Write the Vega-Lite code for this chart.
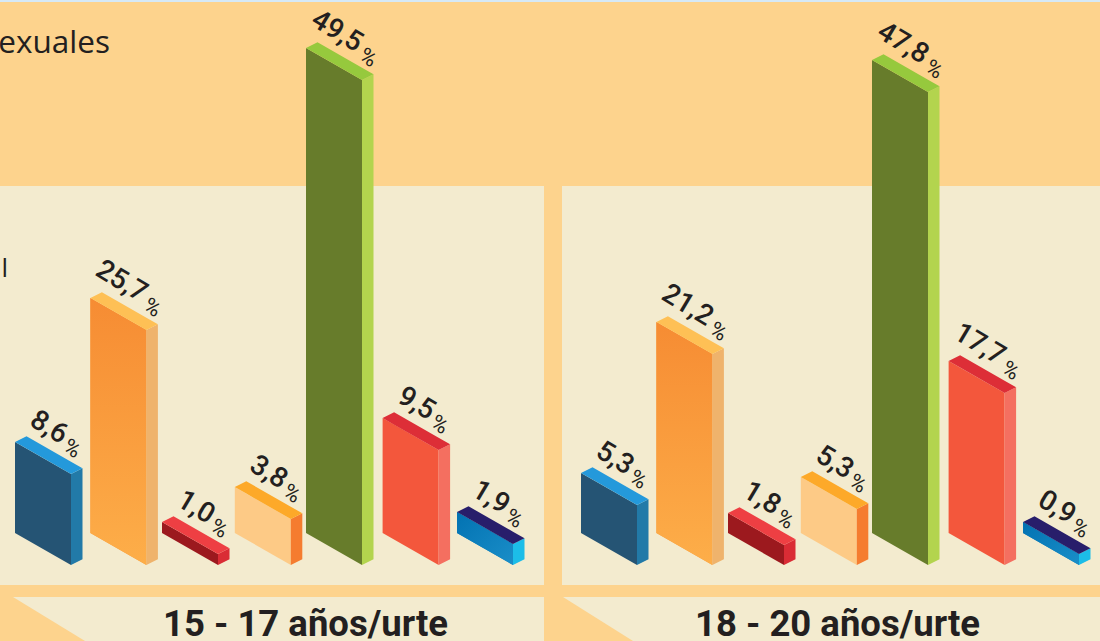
{
"$schema":"https://vega.github.io/schema/vega-lite/v6.json",
"width":1100,"height":641,"padding":0,"autosize":"none","background":"#FDD38D",
"config":{"axis":{"disable":true},"view":{"stroke":null},"legend":{"disable":true}},
"data":{"values":[
{"group":"15 - 17","serie":"azul","slot":0,"pct":8.6,"drawn":9.29},
{"group":"15 - 17","serie":"naranja","slot":1,"pct":25.7,"drawn":23.98},
{"group":"15 - 17","serie":"rojo","slot":2,"pct":1.0,"drawn":1.12},
{"group":"15 - 17","serie":"melocoton","slot":3,"pct":3.8,"drawn":4.69},
{"group":"15 - 17","serie":"verde","slot":4,"pct":49.5,"drawn":49.49},
{"group":"15 - 17","serie":"coral","slot":5,"pct":9.5,"drawn":11.73},
{"group":"15 - 17","serie":"marino","slot":6,"pct":1.9,"drawn":2.14},
{"group":"18 - 20","serie":"azul","slot":0,"pct":5.3,"drawn":6.12},
{"group":"18 - 20","serie":"naranja","slot":1,"pct":21.2,"drawn":21.53},
{"group":"18 - 20","serie":"rojo","slot":2,"pct":1.8,"drawn":2.04},
{"group":"18 - 20","serie":"melocoton","slot":3,"pct":5.3,"drawn":5.71},
{"group":"18 - 20","serie":"verde","slot":4,"pct":47.8,"drawn":48.27},
{"group":"18 - 20","serie":"coral","slot":5,"pct":17.7,"drawn":17.55},
{"group":"18 - 20","serie":"marino","slot":6,"pct":0.9,"drawn":1.12}
]},
"transform":[
{"calculate":"datum.group=='15 - 17'?0:1","as":"g"},
{"calculate":"[15,90.4,162,234.8,306,382.6,457][datum.slot]+566*datum.g","as":"x0"},
{"calculate":"datum.group+datum.serie","as":"id"},
{"calculate":"replace(format(datum.pct,'.1f'),'.',',')","as":"label"},
{"calculate":"datum.pct>=10?1:0","as":"wide"}
],
"encoding":{
"x":{"field":"px","type":"quantitative","scale":{"domain":[0,1100],"range":[0,1100]}},
"y":{"field":"yt","type":"quantitative","stack":null,"scale":{"domain":[-11.02,54.39],"range":[641,0]}}
},
"layer":[
{"data":{"values":[{"band":"top"}]},"mark":{"type":"rect","color":"#D6E9F6"},
 "transform":[{"calculate":"0","as":"px"},{"calculate":"1100","as":"px2"},{"calculate":"54.39","as":"yt"},{"calculate":"54.18","as":"yb"}],
 "encoding":{"x2":{"field":"px2"},"y2":{"field":"yb"}}},
{"data":{"name":"panels","values":[{"g":0,"title":"15 - 17 años/urte"},{"g":1,"title":"18 - 20 años/urte"}]},"mark":{"type":"rect","color":"#F3EBCF"},
 "transform":[{"calculate":"-4+566*datum.g","as":"px"},{"calculate":"datum.px+548","as":"px2"},{"calculate":"35.41","as":"yt"},{"calculate":"-5.306","as":"yb"}],
 "encoding":{"x2":{"field":"px2"},"y2":{"field":"yb"}}},
{"data":{"name":"panels"},"mark":{"type":"rect","color":"#F3EBCF"},
 "transform":[{"calculate":"13+550*datum.g","as":"px"},{"calculate":"544+556*datum.g","as":"px2"},{"calculate":"-6.531","as":"yt"},{"calculate":"-11.02","as":"yb"}],
 "encoding":{"x2":{"field":"px2"},"y2":{"field":"yb"}}},
{"data":{"name":"panels"},"mark":{"type":"area","color":"#FDD38D"},
 "transform":[{"calculate":"[0,1]","as":"t"},{"flatten":["t"]},{"calculate":"13+550*datum.g+datum.t*(72-2*datum.g)","as":"px"},{"calculate":"-6.531-4.489*datum.t","as":"yt"},{"calculate":"-11.02","as":"yb"}],
 "encoding":{"y2":{"field":"yb"},"detail":{"field":"g"}}},
{"data":{"name":"panels"},"mark":{"type":"text","font":"Roboto","fontWeight":700,"fontSize":36.5,"color":"#231F20","baseline":"alphabetic","align":"center"},
 "transform":[{"calculate":"305.5+532*datum.g","as":"px"},{"calculate":"-10.51","as":"yt"}],
 "encoding":{"text":{"field":"title"}}},
{"data":{"values":[{"note":"exuales"}]},"mark":{"type":"text","font":"Open Sans","fontSize":31.5,"color":"#231F20","baseline":"alphabetic","align":"right"},
 "transform":[{"calculate":"110","as":"px"},{"calculate":"48.98","as":"yt"}],
 "encoding":{"text":{"field":"note"}}},
{"data":{"values":[{"note":"al"}]},"mark":{"type":"text","font":"Open Sans","fontSize":26,"color":"#231F20","baseline":"alphabetic","align":"right"},
 "transform":[{"calculate":"8","as":"px"},{"calculate":"26.12","as":"yt"}],
 "encoding":{"text":{"field":"note"}}},
{"mark":{"type":"area"},
 "transform":[{"calculate":"[0,1]","as":"t"},{"flatten":["t"]},{"calculate":"datum.x0+datum.t*56","as":"px"},{"calculate":"datum.drawn-datum.t*56*0.05831","as":"yt"},{"calculate":"-datum.t*56*0.05831","as":"yb"},{"calculate":"datum.serie+'|front'","as":"key"}],
 "encoding":{"y2":{"field":"yb"},"detail":{"field":"id"},"color":{"field":"key","type":"nominal",
  "scale":{"domain":["azul|front","naranja|front","rojo|front","melocoton|front","verde|front","coral|front","marino|front","azul|side","naranja|side","rojo|side","melocoton|side","verde|side","coral|side","marino|side","azul|top","naranja|top","rojo|top","melocoton|top","verde|top","coral|top","marino|top"],
  "range":["#255474","#F89B3C","#9C191E","#FDCA86","#677C2B","#F3573C","#0A7DBA","#227AA8","#EFB36C","#DA2C35","#F57C2F","#B3D44E","#F46F60","#1CBDE8","#2499DB","#FEC055","#EE3F43","#FDA929","#96C93D","#DD2E37","#281E6B"]}}}},
{"mark":{"type":"area","fill":{"gradient":"linear","x1":0,"y1":0,"x2":0,"y2":1,"stops":[{"offset":0,"color":"#F68C33"},{"offset":1,"color":"#FDAE49"}]}},
 "transform":[{"filter":"datum.serie=='naranja'"},{"calculate":"[0,1]","as":"t"},{"flatten":["t"]},{"calculate":"datum.x0+datum.t*56","as":"px"},{"calculate":"datum.drawn-datum.t*56*0.05831","as":"yt"},{"calculate":"-datum.t*56*0.05831","as":"yb"}],
 "encoding":{"y2":{"field":"yb"},"detail":{"field":"id"}}},
{"mark":{"type":"area","fill":{"gradient":"linear","x1":0,"y1":0,"x2":1,"y2":1,"stops":[{"offset":0,"color":"#0272B2"},{"offset":1,"color":"#1A8EC8"}]}},
 "transform":[{"filter":"datum.serie=='marino'"},{"calculate":"[0,1]","as":"t"},{"flatten":["t"]},{"calculate":"datum.x0+datum.t*56","as":"px"},{"calculate":"datum.drawn-datum.t*56*0.05831","as":"yt"},{"calculate":"-datum.t*56*0.05831","as":"yb"}],
 "encoding":{"y2":{"field":"yb"},"detail":{"field":"id"}}},
{"mark":{"type":"area"},
 "transform":[{"calculate":"[0,1]","as":"t"},{"flatten":["t"]},{"calculate":"datum.x0+56+datum.t*11.5","as":"px"},{"calculate":"datum.drawn-56*0.05831+datum.t*11.5*0.05102","as":"yt"},{"calculate":"-56*0.05831+datum.t*11.5*0.05102","as":"yb"},{"calculate":"datum.serie+'|side'","as":"key"}],
 "encoding":{"y2":{"field":"yb"},"detail":{"field":"id"},"color":{"field":"key","type":"nominal"}}},
{"mark":{"type":"area"},
 "transform":[{"calculate":"[0,11.5,56,67.5]","as":"t"},{"flatten":["t"]},{"calculate":"datum.x0+datum.t","as":"px"},{"calculate":"datum.drawn+min(datum.t,11.5)*0.05102-max(datum.t-11.5,0)*0.05831","as":"yt"},{"calculate":"datum.drawn-min(datum.t,56)*0.05831+max(datum.t-56,0)*0.05102","as":"yb"},{"calculate":"datum.serie+'|top'","as":"key"}],
 "encoding":{"y2":{"field":"yb"},"detail":{"field":"id"},"color":{"field":"key","type":"nominal"}}},
{"mark":{"type":"text","font":"Roboto","fontWeight":500,"fontSize":28,"color":"#231F20","angle":31,"align":"right","baseline":"middle"},
 "transform":[{"calculate":"datum.x0+50+4*datum.wide","as":"px"},{"calculate":"datum.drawn+0.45-0.2*datum.wide","as":"yt"}],
 "encoding":{"text":{"field":"label"}}},
{"mark":{"type":"text","font":"Roboto","fontWeight":400,"fontSize":22,"color":"#231F20","angle":31,"align":"left","baseline":"middle","text":"%"},
 "transform":[{"calculate":"datum.x0+50+5*datum.wide","as":"px"},{"calculate":"datum.drawn-0.25-0.3*datum.wide","as":"yt"}]}
]
}
